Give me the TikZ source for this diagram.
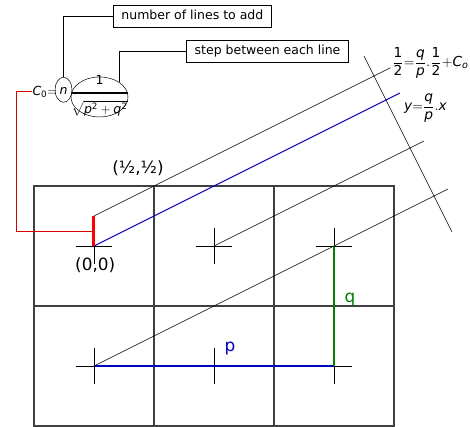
\documentclass[tikz,border=0pt]{standalone}
\usepackage{amsmath}
\usepackage{mathspec}
\setmainfont{DejaVu Sans}
\setmathsfont(Digits,Latin){DejaVu Sans}
\usepackage{tikz}
\usetikzlibrary{shapes.geometric,positioning}

\begin{document}
\begin{tikzpicture}[x=96pt,y=96pt]
  \colorlet{gridline}{black!75}
  \colorlet{slopeBlue}{blue!75!black}
  \colorlet{riseGreen}{green!50!black}
  \colorlet{offsetRed}{red!85!black}
  \tikzset{
    callout/.style={draw, font=\fontsize{10}{12}\selectfont, inner xsep=6.5pt,
                    inner ysep=3.8pt, text height=7.6pt, text depth=2.4pt},
    ring/.style={draw, ellipse, inner sep=0pt},
    bigtext/.style={font=\fontsize{13.5}{16}\selectfont},
    eqtext/.style={font=\fontsize{11}{13}\selectfont, inner sep=0pt}
  }
  \useasboundingbox (-0.7833,-1.505) rectangle (3.1333,2.05);

  %--- Cell grid (3x2) ---
  \draw[gridline, line width=0.9pt] (-0.5,-1.5) rectangle (2.5,0.5);
  \foreach \x in {0.5,1.5} { \draw[gridline, line width=0.9pt] (\x,-1.5) -- (\x,0.5); }
  \draw[gridline, line width=0.9pt] (-0.5,-0.5) -- (2.5,-0.5);

  %--- Crosses at cell centres ---
  \foreach \r in {0,-1} {
    \foreach \c in {0,1,2} {
      \draw[line width=0.7pt] ({\c-0.15},\r) -- ({\c+0.15},\r);
      \draw[line width=0.7pt] (\c,{\r-0.15}) -- (\c,{\r+0.15});
    }
  }

  %--- p and q legs ---
  \draw[slopeBlue, line width=0.9pt] (0,-1) -- (2,-1);
  \draw[riseGreen, line width=0.9pt] (2,-1) -- (2,0);
  \node[bigtext, text=slopeBlue] (plabel) at (1.133,-0.858) {p};
  \node[bigtext, text=riseGreen] (qlabel) at (2.133,-0.45) {q};

  %--- Parallel lines of slope q/p ---
  \coordinate (origin)    at (0,0);
  \coordinate (offsettop) at (0,0.25);
  \coordinate (redmid)    at (0,0.125);
  \coordinate (blueend)   at (2.55,1.275);
  \coordinate (topend)    at (2.47,1.485);
  \draw[line width=0.5pt] (0,-1) -- (2.95,0.475);
  \draw[line width=0.5pt] (1,0) -- (2.75,0.875);
  \draw[slopeBlue, line width=0.8pt] (origin) -- (blueend);
  \draw[line width=0.5pt] (offsettop) -- (topend);
  \draw[red, line width=2.4pt] (origin) -- (offsettop);

  %--- Perpendicular ---
  \draw[line width=0.5pt] (2.25,1.583) -- (2.983,0.117);

  %--- Labels ---
  \node[bigtext] (origlabel) at (0.01,-0.158) {(0,0)};
  \node[bigtext] (halflabel) at (0.367,0.65)  {(½,½)};
  \node[eqtext, anchor=west] (lineeq) at (2.483,1.525)
      {$\dfrac{1}{2}{=}\dfrac{q}{p}.\dfrac{1}{2}{+}C_o$};
  \node[eqtext, anchor=west] (blueeq) at (2.583,1.15)
      {$y{=}\dfrac{q}{p}.x$};

  %--- C0 formula with callouts ---
  \node[inner sep=0pt] (nvar) at (-0.254,1.29) {$n$};
  \node[ring, minimum width=13.6pt, minimum height=20pt] (nring) at (-0.254,1.302) {};
  \node[inner sep=0pt] (invlen) at (0.046,1.25)
      {$\genfrac{}{}{1.8pt}{0}{1}{\sqrt{p^2+q^2}}$};
  \node[ring, minimum width=45.6pt, minimum height=32pt] (invring) at (0.046,1.242) {};
  \node[anchor=east, inner sep=0pt] (czero) at (-0.305,1.285) {$C_0{=}$};
  \node[callout] (linesbox) at (0.82,1.917)  {number of lines to add};
  \node[callout] (stepbox)  at (1.446,1.625) {step between each line};
  \draw (nring.north) |- (linesbox.west);
  \draw (invring.37)  |- (stepbox.west);
  \coordinate (redcorner) at (-0.65,0.125);
  \draw[offsetRed, line width=0.7pt] (czero.west) -| (redcorner) -- (redmid);

\end{tikzpicture}
\end{document}
